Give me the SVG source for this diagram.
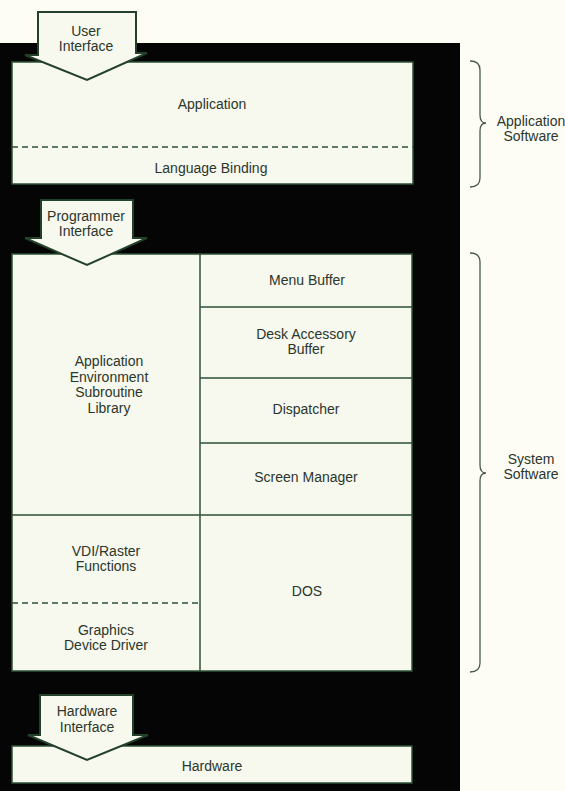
<svg xmlns="http://www.w3.org/2000/svg" width="565" height="791" viewBox="0 0 565 791">
<style>
.box{fill:#f7f8ee;stroke:#2e5236;stroke-width:1.5}
.ln{stroke:#2e5236;stroke-width:1.5;fill:none}
.dash{stroke:#2e5236;stroke-width:1.5;stroke-dasharray:6,4;fill:none}
.arr{fill:#f7f8ee;stroke:#23402a;stroke-width:2;stroke-linejoin:miter}
.br{fill:none;stroke:#4a5a4a;stroke-width:1.3}
text{font-family:"Liberation Sans",Arial,sans-serif;font-size:14px;fill:#2b362c;text-anchor:middle}
</style>
<rect x="0" y="0" width="565" height="791" fill="#fdfdf6"/>
<rect x="0" y="43" width="460" height="748" fill="#050505"/>
<g id="application">
<rect class="box" x="12" y="62" width="401" height="122"/>
<line class="dash" x1="12" y1="147" x2="413" y2="147"/>
<text x="212" y="109">Application</text>
<text x="211" y="173">Language Binding</text>
</g>
<g id="system">
<rect class="box" x="12" y="254" width="400" height="417"/>
<line class="ln" x1="200" y1="254" x2="200" y2="671"/>
<line class="ln" x1="200" y1="307" x2="412" y2="307"/>
<line class="ln" x1="200" y1="378" x2="412" y2="378"/>
<line class="ln" x1="200" y1="443" x2="412" y2="443"/>
<line class="ln" x1="12" y1="515" x2="412" y2="515"/>
<line class="dash" x1="12" y1="603" x2="200" y2="603"/>
<text x="307" y="285">Menu Buffer</text>
<text x="306" y="339">Desk Accessory</text>
<text x="306" y="354">Buffer</text>
<text x="306" y="414">Dispatcher</text>
<text x="306" y="482">Screen Manager</text>
<text x="109" y="366">Application</text>
<text x="109" y="382">Environment</text>
<text x="109" y="397">Subroutine</text>
<text x="109" y="413">Library</text>
<text x="106" y="556">VDI/Raster</text>
<text x="106" y="571">Functions</text>
<text x="307" y="596">DOS</text>
<text x="106" y="635">Graphics</text>
<text x="106" y="650">Device Driver</text>
</g>
<g id="hardware">
<rect class="box" x="12" y="746" width="400" height="37"/>
<text x="212" y="771">Hardware</text>
</g>
<g id="arrows">
<path class="arr" d="M38,12 H136 V53 H147 L87,80 L25,55 H38 Z"/>
<text x="86" y="36">User</text>
<text x="86" y="51">Interface</text>
<path class="arr" d="M41,200 H133 V238 H147 L87,265 L25,238 H41 Z"/>
<text x="86" y="221">Programmer</text>
<text x="86" y="236">Interface</text>
<path class="arr" d="M40,695 H133 V735 H148 L87,760 L28,735 H40 Z"/>
<text x="87" y="716">Hardware</text>
<text x="87" y="732">Interface</text>
</g>
<g id="braces">
<path class="br" d="M470,61 Q480,61 480,70 V115 Q480,123 486,123 Q480,123 480,131 V178 Q480,187 470,187"/>
<path class="br" d="M470,253 Q480,253 480,262 V465 Q480,473 486,473 Q480,473 480,481 V663 Q480,672 470,672"/>
<text x="531" y="126">Application</text>
<text x="531" y="141">Software</text>
<text x="531" y="464">System</text>
<text x="531" y="479">Software</text>
</g>
</svg>
